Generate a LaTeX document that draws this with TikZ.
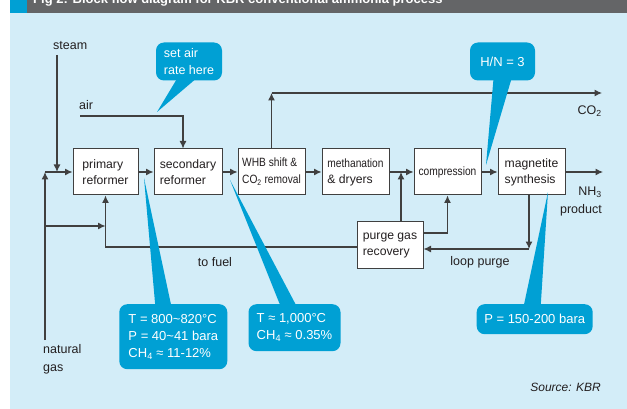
\documentclass[tikz,border=0pt]{standalone}
\usepackage{fontspec}
\setmainfont{Liberation Sans}
\newfontfamily\narrowfont[FakeStretch=0.85]{Liberation Sans}
\usetikzlibrary{arrows,arrows.meta,calc}
\definecolor{KBRsky}{HTML}{D3EDF8}
\definecolor{KBRgrey}{HTML}{646567}
\definecolor{KBRcyan}{HTML}{00A0D4}
\definecolor{KBRline}{HTML}{404040}
\definecolor{KBRtext}{HTML}{231F20}
\tikzset{
    block/.style = {draw=KBRline, fill=white, rectangle, line width=1pt,
        minimum height=46pt, inner sep=0pt, align=left,
        text=KBRtext, font=\fontsize{12.2}{16}\selectfont},
    flow/.style = {draw=KBRline, line width=1.1pt, ->},
    flowlabel/.style = {text=KBRtext, inner sep=0pt, align=left,
        font=\fontsize{12.5}{18}\selectfont},
    bubble/.style = {fill=KBRcyan, rounded corners=8pt, text=white,
        inner sep=0pt, align=left, font=\fontsize{13}{17}\selectfont},
    bubbletail/.style = {fill=KBRcyan}
}
\newcommand{\blocksmall}{\narrowfont\fontsize{12}{17}\selectfont}

\begin{document}
\begin{tikzpicture}[x=1pt,y=-1pt,>={Latex[length=7.5pt,width=7pt]}]
  \path[use as bounding box] (0,0) rectangle (627,409);
  \clip (0,0) rectangle (627,409);
  % frame and title band
  \fill[white] (0,0) rectangle (627,409);
  \fill[KBRsky] (10,13) rectangle (627,409);
  \fill[KBRgrey] (27,0) rectangle (627,13);
  \fill[KBRcyan] (10,0) rectangle (27,13);
  \node[anchor=base west, inner sep=0pt, text=white, font=\bfseries\fontsize{13}{15}\selectfont]
    (title) at (33,3.5) {Fig 2: Block flow diagram for KBR conventional ammonia process};

  % process blocks
  \node[block, minimum width=65pt] (prim) at (105.5,172) {primary\\reformer};
  \node[block, minimum width=68pt] (sec) at (188,172) {secondary\\reformer};
  \node[block, minimum width=67pt, font=\blocksmall] (whb) at (271.5,172) {WHB shift \&\\CO\textsubscript{2} removal};
  \node[block, minimum width=67pt] (meth) at (355.5,172) {{\blocksmall methanation}\\\& dryers};
  \node[block, minimum width=67pt, font=\blocksmall] (comp) at (447.5,172) {compression};
  \node[block, minimum width=67pt] (magn) at (531.5,172) {magnetite\\synthesis};
  \node[block, minimum width=66pt, minimum height=47pt] (prg) at (390,245) {purge gas\\recovery};

  % stream labels
  \node[flowlabel, anchor=west] (steam) at (53,46) {steam};
  \node[flowlabel, anchor=west] (air) at (79,105) {air};
  \node[flowlabel, anchor=west] (ng) at (43,359) {natural\\gas};
  \node[flowlabel] (fuel) at (215,262) {to fuel};
  \node[flowlabel] (loop) at (480,262) {loop purge};
  \node[flowlabel, anchor=east] (co2) at (602,111) {CO\textsubscript{2}};
  \node[flowlabel, anchor=north east, align=right] (nh3) at (602,187) {NH\textsubscript{3}\\product};
  \node[flowlabel, anchor=east, font=\itshape\fontsize{12}{14}\selectfont] (src) at (601,387) {Source: KBR};

  \coordinate (steamin) at (57,55);
  \coordinate (ngin) at (45,340);
  \coordinate (ngbranch) at (45,226);
  \coordinate (airin) at (80,116);
  \coordinate (co2end) at (602,93);
  \coordinate (nh3end) at (603,172);
  \coordinate (lpcorner) at (529,249);

  % connectors
  \draw[flow] (steamin) -- (steamin |- prim.west);
  \draw[flow] (ngin) -- (ngin |- prim.west);
  \draw[flow] (ngin |- prim.west) -- (prim.west);
  \draw[flow] (ngbranch) -- (ngbranch -| prim.south);
  \draw[flow] ([yshift=-2pt]prg.west) -| (prim.south);
  \draw[flow] (airin) -| ([xshift=-5pt]sec.north);
  \draw[flow] (prim) -- (sec);
  \draw[flow] (sec) -- (whb);
  \draw[flow] (whb) -- (meth);
  \draw[flow] (meth) -- (comp);
  \draw[flow] (comp) -- (magn);
  \draw[flow] (magn) -- (nh3end);
  \draw[flow] (whb.north) -- (whb.north |- co2end);
  \draw[flow] (whb.north |- co2end) -- (co2end);
  \draw[flow] ([xshift=11pt]prg.north) -- ([xshift=11pt]prg.north |- meth.east);
  \draw[flow] ([yshift=12pt]prg.east) -| (comp.south);
  \draw[flow] (magn.south -| lpcorner) -- (lpcorner);
  \draw[flow] (lpcorner) -- (prg.east |- lpcorner);

  % callouts
  \node[bubble, minimum width=66pt, minimum height=38pt, font=\fontsize{12.5}{17}\selectfont]
    (airnote) at (189,61.5) {set air\\rate here};
  \node[bubble, minimum width=65pt, minimum height=38pt] (hnnote) at (502.5,61.5) {H/N = 3};
  \node[bubble, minimum width=108pt, minimum height=65pt] (prinote) at (173.3,336.7)
    {T = 800\textasciitilde 820°C\\P = 40\textasciitilde 41 bara\\CH\textsubscript{4} ≈ 11-12\%};
  \node[bubble, minimum width=92pt, minimum height=47pt] (secnote) at (294.5,327.7)
    {T ≈ 1,000°C\\CH\textsubscript{4} ≈ 0.35\%};
  \node[bubble, minimum width=116pt, minimum height=30pt] (synnote) at (534.7,319.2) {P = 150-200 bara};

  \coordinate (airtip) at (157,112);
  \coordinate (hntip) at (486,165);
  \coordinate (pritip) at (144,178);
  \coordinate (sectip) at (230,180);
  \coordinate (syntip) at (548,192);
  \fill[bubbletail] ([xshift=-12pt,yshift=2pt]airnote.south) -- (airtip) -- ([xshift=7pt,yshift=2pt]airnote.south) -- cycle;
  \fill[bubbletail] ([xshift=-9pt,yshift=2pt]hnnote.south) -- (hntip) -- ([xshift=9pt,yshift=2pt]hnnote.south) -- cycle;
  \fill[bubbletail] ([xshift=-18pt,yshift=-2pt]prinote.north) -- (pritip) -- ([xshift=-2pt,yshift=-2pt]prinote.north) -- cycle;
  \fill[bubbletail] ([xshift=-14pt,yshift=-2pt]secnote.north) -- (sectip) -- ([xshift=2pt,yshift=-2pt]secnote.north) -- cycle;
  \fill[bubbletail] ([xshift=-11pt,yshift=-2pt]synnote.north) -- (syntip) -- ([xshift=6pt,yshift=-2pt]synnote.north) -- cycle;
\end{tikzpicture}
\end{document}
